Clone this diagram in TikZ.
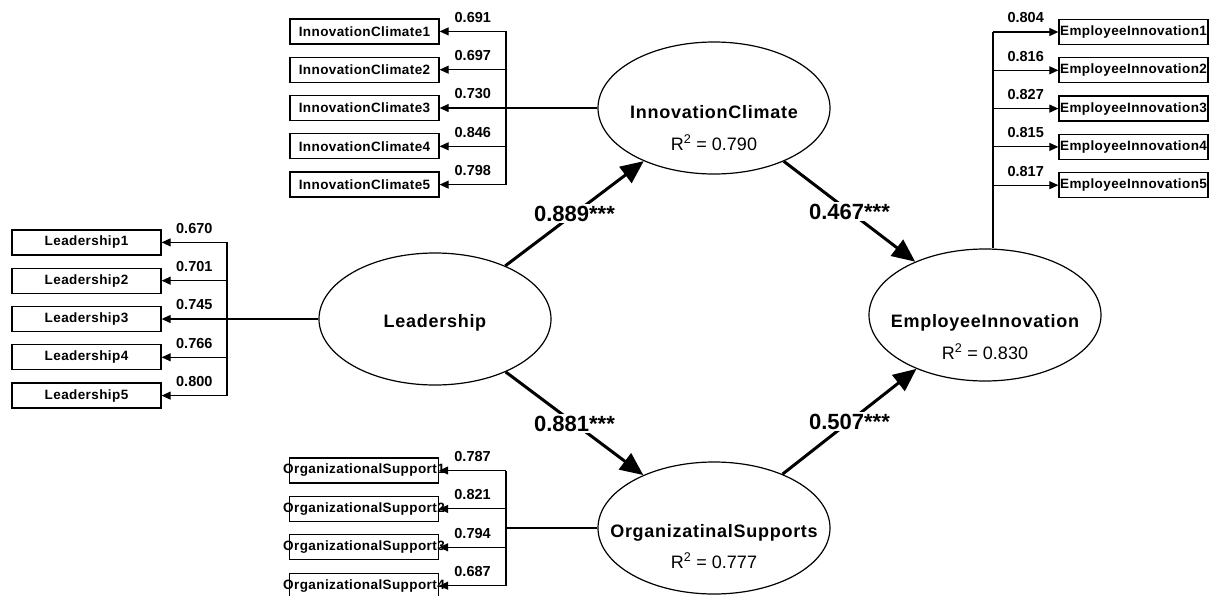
\documentclass[tikz,border=0pt]{standalone}
\usepackage{fontspec}
\setmainfont{Liberation Sans}
\newfontfamily\boxfont[LetterSpace=3]{Liberation Sans}
\newfontfamily\namefont[LetterSpace=4]{Liberation Sans}
\usetikzlibrary{arrows.meta,shapes.geometric,calc}
\begin{document}
\begin{tikzpicture}[x=1pt,y=-1pt,
  latent/.style={draw, ellipse, line width=1.2pt, minimum width=232pt, minimum height=132pt, inner sep=0pt},
  ind/.style={draw, rectangle, line width=1.3pt, minimum width=149pt, minimum height=25pt, inner sep=0pt, font={\boxfont\bfseries\fontsize{13.5}{15}\selectfont}},
  thinln/.style={line width=1.1pt},
  meas/.style={line width=1.1pt, -{Triangle[length=9pt,width=8pt]}},
  struct/.style={line width=3pt, -{Triangle[length=23pt,width=20pt]}},
  load/.style={font={\bfseries\fontsize{14.5}{16}\selectfont}, inner sep=0pt, yshift=14pt},
  coef/.style={font={\bfseries\fontsize{22}{24}\selectfont}, fill=white, inner sep=1.5pt},
  lname/.style={font={\namefont\bfseries\fontsize{18}{20}\selectfont}, anchor=base, inner sep=0pt},
  rsq/.style={font={\fontsize{18}{20}\selectfont}, anchor=base, inner sep=0pt}
]
\useasboundingbox (0,0) rectangle (1211,595);

% latent variables
\node[latent] (IC) at (714,108) {};
\node[latent] (L) at (435,319) {};
\node[latent] (EI) at (985,315) {};
\node[latent] (OS) at (714,528) {};

\node[lname] (ICn) at ($(IC)+(0,10)$) {InnovationClimate};
\node[rsq] (ICr) at ($(IC)+(0,42)$) {R\textsuperscript{2} = 0.790};
\node[lname] (Ln) at ($(L)+(0,8)$) {Leadership};
\node[lname] (EIn) at ($(EI)+(0,12)$) {EmployeeInnovation};
\node[rsq] (EIr) at ($(EI)+(0,44)$) {R\textsuperscript{2} = 0.830};
\node[lname] (OSn) at ($(OS)+(0,9)$) {OrganizatinalSupports};
\node[rsq] (OSr) at ($(OS)+(0,40)$) {R\textsuperscript{2} = 0.777};

% InnovationClimate indicators
\foreach \i [count=\k from 0] in {1,...,5} {
  \node[ind] (ic\i) at (364.5,{31.4+38.3*\k}) {\makebox[140pt]{InnovationClimate\i}};
}
\coordinate (icT) at (506,108);
\draw[thinln] (IC.west) -- (icT);
\draw[thinln] (ic1.east -| icT) -- (ic5.east -| icT);
\foreach \i/\v in {1/0.691,2/0.697,3/0.730,4/0.846,5/0.798} {
  \draw[meas] (ic\i.east -| icT) -- (ic\i.east) node[load, midway] {\v};
}

% Leadership indicators
\foreach \i [count=\k from 0] in {1,...,5} {
  \node[ind] (ld\i) at (86.5,{242.4+38.3*\k}) {\makebox[140pt]{Leadership\i}};
}
\coordinate (lT) at (227,319);
\draw[thinln] (L.west) -- (lT);
\draw[thinln] (ld1.east -| lT) -- (ld5.east -| lT);
\foreach \i/\v in {1/0.670,2/0.701,3/0.745,4/0.766,5/0.800} {
  \draw[meas] (ld\i.east -| lT) -- (ld\i.east) node[load, midway] {\v};
}

% EmployeeInnovation indicators
\foreach \i [count=\k from 0] in {1,...,5} {
  \node[ind] (ei\i) at (1133.5,{32+38.3*\k}) {\makebox[140pt]{EmployeeInnovation\i}};
}
\coordinate (eiT) at (993,32);
\draw[thinln] (eiT |- EI.north) -- (eiT);
\foreach \i/\v in {1/0.804,2/0.816,3/0.827,4/0.815,5/0.817} {
  \draw[meas] (ei\i.west -| eiT) -- (ei\i.west) node[load, midway] {\v};
}

% OrganizationalSupport indicators
\foreach \i [count=\k from 0] in {1,...,4} {
  \node[ind] (os\i) at (364,{470.5+38.4*\k}) {\makebox[140pt]{OrganizationalSupport\i}};
}
\coordinate (osT) at (506,528);
\draw[thinln] (OS.west) -- (osT);
\draw[thinln] (os1.east -| osT) -- (os4.east -| osT);
\foreach \i/\v in {1/0.787,2/0.821,3/0.794,4/0.687} {
  \draw[meas] (os\i.east -| osT) -- (os\i.east) node[load, midway] {\v};
}

% structural paths
\draw[struct] (L) -- (IC) node[coef, midway] {0.889***};
\draw[struct] (IC) -- (EI) node[coef, midway] {0.467***};
\draw[struct] (L) -- (OS) node[coef, midway] {0.881***};
\draw[struct] (OS) -- (EI) node[coef, midway] {0.507***};
\end{tikzpicture}
\end{document}
